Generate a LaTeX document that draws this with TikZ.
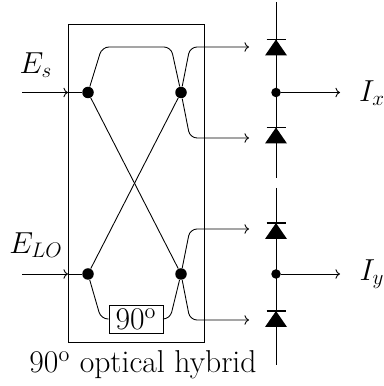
\documentclass[tikz,border=0pt]{standalone}
\usepackage{amsmath}
\usetikzlibrary{calc,arrows.meta}

\tikzset{
  every picture/.style={line width=0.5pt},
  junction/.style={circle,fill=black,inner sep=0pt,minimum size=0.23cm},
  wire/.style={rounded corners=0.14cm},
  flow/.style={-{To[length=2.6pt,width=5.4pt]}},
  label/.style={font=\fontsize{18}{20}\selectfont}
}

\begin{document}
\begin{tikzpicture}
            \useasboundingbox (0,0) rectangle (7.66,7.72);
            \draw (1.36,0.88) rectangle (4.08,7.24);

            % hybrid junctions
            \node[junction] (s1) at (1.76,5.87){};
            \node[junction] (s2) at (3.62,5.87){};
            \node[junction] (lo1) at (1.76,2.24){};
            \node[junction] (lo2) at (3.62,2.24){};
            \node[draw,inner sep=0pt,minimum width=1.08cm,minimum height=0.56cm,label] (shift) at (2.72,1.34){90\textsuperscript{o}};
            \node[label] (title) at (2.86,0.43){90\textsuperscript{o} optical hybrid};

            % inputs
            \coordinate (in1) at (0.44,5.87);
            \coordinate (in2) at (0.44,2.24);
            \coordinate (box1) at (1.36,5.87);
            \coordinate (box2) at (1.36,2.24);
            \draw[flow] (in1)--(box1);
            \draw (box1)--(s1);
            \draw[flow] (in2)--(box2);
            \draw (box2)--(lo1);
            \node[label] (es) at (0.72,6.42){\(E_s\)};
            \node[label] (elo) at (0.72,2.82){\(E_{LO}\)};

            % inner paths
            \draw[wire] (s1)--(2.04,6.78)--(3.42,6.78)--(s2);
            \draw (s1)--(lo2);
            \draw (lo1)--(s2);
            \draw[wire] (lo1)--(2.02,1.34)--(shift.west);
            \draw[wire] (shift.east)--(3.4,1.34)--(lo2);

            % outputs
            \coordinate (o1) at (4.98,6.78);
            \coordinate (o2) at (4.98,4.96);
            \coordinate (o3) at (4.98,3.14);
            \coordinate (o4) at (4.98,1.32);
            \draw[flow,wire] (s2)--(3.8,6.78)--(o1);
            \draw[flow,wire] (s2)--(3.8,4.96)--(o2);
            \draw[flow,wire] (lo2)--(3.8,3.14)--(o3);
            \draw[flow,wire] (lo2)--(3.8,1.32)--(o4);

            % photodiodes
            \coordinate (top1) at (5.52,7.68);
            \coordinate (bot1) at (5.52,4.16);
            \coordinate (top2) at (5.52,3.96);
            \coordinate (bot2) at (5.52,0.42);
            \draw (top1)--(bot1);
            \draw (top2)--(bot2);
            \foreach \y in {6.93,5.17,3.26,1.50}{
                \fill (5.52,\y)--(5.30,\y-0.32)--(5.74,\y-0.32)--cycle;
                \draw[line width=0.8pt] (5.33,\y)--(5.71,\y);
            }
            \node[junction,minimum size=0.19cm] (mx) at (5.52,5.87){};
            \node[junction,minimum size=0.19cm] (my) at (5.52,2.24){};
            \coordinate (ox) at (6.8,5.87);
            \coordinate (oy) at (6.8,2.24);
            \draw[flow] (mx)--(ox);
            \draw[flow] (my)--(oy);
            \node[label] (ix) at (7.44,5.86){\(I_x\)};
            \node[label] (iy) at (7.44,2.24){\(I_y\)};
        \end{tikzpicture}
\end{document}
